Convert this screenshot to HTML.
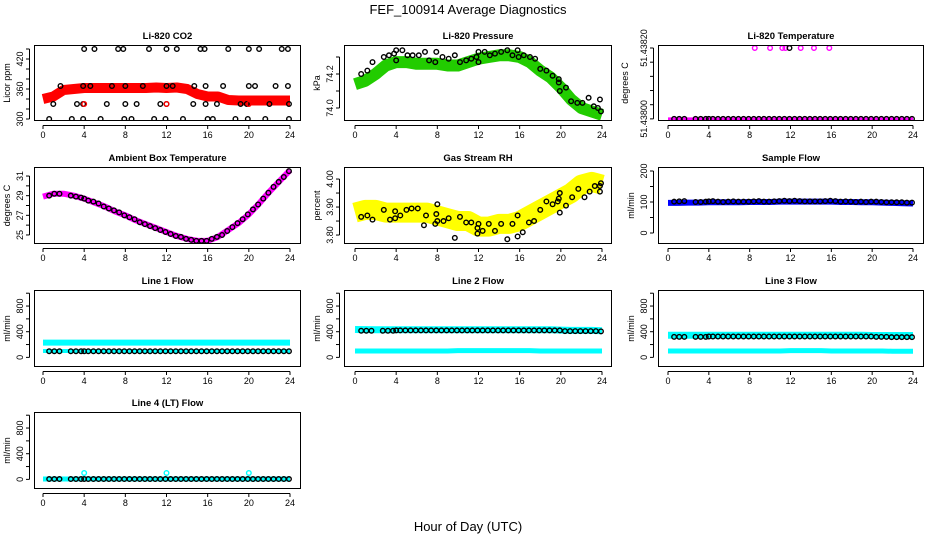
<!DOCTYPE html>
<html><head><meta charset="utf-8"><style>
body{margin:0;background:#fff;}
svg{display:block;font-family:"Liberation Sans",Arial,sans-serif;}
</style></head><body>
<svg id="chart" width="936" height="540" viewBox="0 0 936 540">
<rect width="936" height="540" fill="#fff"/>
<text x="468" y="14" text-anchor="middle" font-size="13">FEF_100914  Average Diagnostics</text>
<text x="468" y="531" text-anchor="middle" font-size="13">Hour of Day (UTC)</text>
</svg>
<script>
// ---- shared data ----
const hours = [0,1,2,3,4,5,6,7,8,9,10,11,12,13,14,15,16,17,18,19,20,21,22,23,24];
const sampleHours = [0.6,1.1,1.6,2.7,3.2,3.7,4.0,4.4,4.9,5.4,5.9,6.4,6.9,7.4,7.9,8.4,8.9,9.4,9.9,10.4,10.9,11.4,11.9,12.4,12.9,13.4,13.9,14.4,14.9,15.4,15.9,16.4,16.9,17.4,17.9,18.4,18.9,19.4,19.9,20.4,20.9,21.4,21.9,22.4,22.9,23.4,23.9];
const xTicks = [0,4,8,12,16,20,24];

// CO2
const co2Band = [340,345,358,360,362,362,362,362,362,362,362,363,362,363,360,350,345,345,338,337,337,337,337,337,337];
const co2PtsX = [4,5,7.3,7.8,10.3,12,13,15.3,15.7,18,20,21,23.2,23.8, 1.7,3.9,4.6,6.7,8,9.7,12,12.6,14.7,15.8,17.5,20,20.6,22.6,23.8, 1,3.3,3.9,6.2,8,9.1,11.4,12,14.6,15.8,16.9,19.2,19.8,22,23.9, 0.6,2.8,3.9,5.6,7.9,8.6,10.8,11.9,13.6,16,16.5,18.7,19.9,21.6,23.9];
const co2PtsY = [440,440,440,440,440,440,440,440,440,440,440,440,440,440, 366,366,366,366,366,366,366,366,366,366,366,366,366,366,366, 330,330,330,330,330,330,330,330,330,330,330,330,330,330,330, 300,300,300,300,300,300,300,300,300,300,300,300,300,300,300];

// Pressure
const presBand = [74.14,74.16,74.2,74.25,74.27,74.27,74.26,74.26,74.26,74.25,74.25,74.27,74.29,74.3,74.31,74.31,74.3,74.27,74.22,74.18,74.12,74.05,74.0,73.98,73.96];
const presPtsX = [0.6,1.2,1.7,2.8,3.3,3.8,4,4,4.6,5.1,5.6,6.2,6.8,7.2,7.8,7.9,8.5,9.1,9.7,10.2,10.8,11.3,11.8,12,12,12.6,13.1,13.6,14.2,14.8,15.3,15.8,15.9,16.4,17,17.5,18,18.6,19.2,19.8,19.8,19.9,20.5,21,21.6,22.1,22.7,23.2,23.6,23.8,23.9];
const presPtsY = [74.2,74.22,74.27,74.3,74.31,74.32,74.34,74.28,74.34,74.31,74.31,74.31,74.33,74.28,74.27,74.33,74.3,74.29,74.31,74.27,74.28,74.29,74.3,74.33,74.27,74.33,74.31,74.32,74.33,74.34,74.31,74.34,74.3,74.31,74.3,74.29,74.23,74.22,74.19,74.17,74.15,74.1,74.12,74.04,74.03,74.03,74.06,74.01,74.0,74.05,73.98];

// Li-820 temperature (degrees C)
const ltBand = [51.438,51.438,51.438,51.438,51.438,51.438,51.438,51.438,51.438,51.438,51.438,51.438,51.438,51.438,51.438,51.438,51.438,51.438,51.438,51.438,51.438,51.438,51.438,51.438,51.438];
const ltPtsY = [51.438,51.438,51.438,51.438,51.438,51.438,51.438,51.438,51.438,51.438,51.438,51.438,51.438,51.438,51.438,51.438,51.438,51.438,51.438,51.438,51.438,51.438,51.438,51.438,51.438,51.438,51.438,51.438,51.438,51.438,51.438,51.438,51.438,51.438,51.438,51.438,51.438,51.438,51.438,51.438,51.438,51.438,51.438,51.438,51.438,51.438,51.438];
const ltHighX = [8.5,10,11.2,11.5,13,14.3,15.8];
const ltHighY = [51.4382,51.4382,51.4382,51.4382,51.4382,51.4382,51.4382];
const ltBlackHighX = [11.9];
const ltBlackHighY = [51.4382];

// Ambient box temperature
const ambBand = [28.9,29.2,29.2,29.0,28.7,28.3,27.9,27.4,27.0,26.5,26.1,25.7,25.3,24.9,24.6,24.4,24.4,24.8,25.5,26.2,27.1,28.2,29.4,30.5,31.6];
const ambPtsY = [29.0,29.2,29.2,29.0,28.9,28.8,28.7,28.5,28.4,28.2,27.9,27.7,27.5,27.3,27.0,26.8,26.6,26.3,26.1,25.9,25.7,25.5,25.3,25.1,24.9,24.8,24.6,24.5,24.4,24.4,24.4,24.6,24.8,25.0,25.4,25.8,26.2,26.6,27.1,27.6,28.1,28.7,29.3,29.9,30.4,30.9,31.5];

// Gas stream RH
const rhBand = [3.88,3.89,3.89,3.88,3.88,3.88,3.88,3.88,3.87,3.86,3.85,3.85,3.83,3.83,3.84,3.84,3.85,3.87,3.89,3.91,3.93,3.95,3.98,3.99,3.98];
const rhPtsX = [0.6,1.2,1.7,2.8,3.4,3.9,3.9,4.4,5.0,5.5,6.1,6.7,6.9,7.8,7.9,8.0,8.0,8.6,9.1,9.7,10.2,10.8,11.3,11.9,11.9,12.0,12.4,13.0,13.6,14.2,14.8,15.3,15.8,15.8,16.3,16.9,17.4,18.0,18.6,19.2,19.7,19.8,19.9,19.9,20.5,21.1,21.7,22.3,22.8,23.3,23.8,23.8,23.9];
const rhPtsY = [3.865,3.87,3.855,3.89,3.855,3.885,3.86,3.87,3.89,3.895,3.895,3.835,3.87,3.84,3.875,3.85,3.91,3.85,3.86,3.79,3.865,3.845,3.845,3.805,3.825,3.84,3.815,3.84,3.815,3.84,3.785,3.84,3.87,3.795,3.81,3.845,3.85,3.89,3.92,3.91,3.92,3.93,3.95,3.88,3.905,3.935,3.965,3.935,3.955,3.975,3.975,3.955,3.985];

// Sample flow
const sfBand = [97,97,98,98,99,99,99,99,100,100,100,101,101,101,101,101,101,100,100,99,99,98,97,96,95];
const sfPtsY = [101,102,103,100,100,101,102,103,101,100,101,102,101,101,101,102,103,101,101,102,103,104,103,104,103,102,102,102,102,103,104,103,101,102,101,100,101,100,101,101,100,99,99,99,99,98,98];

// Line flows
const l1BandHi = [230,230,230,230,230,230,230,230,230,230,230,230,230,230,230,230,230,230,230,230,230,230,230,230,230];
const l1BandLo = [100,100,100,100,100,100,100,100,100,100,100,100,100,100,100,100,100,100,100,100,100,100,100,100,100];
const l1PtsY = [95,95,95,95,95,95,95,95,95,95,95,95,95,95,95,95,95,95,95,95,95,95,95,95,95,95,95,95,95,95,95,95,95,95,95,95,95,95,95,95,95,95,95,95,95,95,95];
const l2BandHi = [435,432,430,430,430,430,430,430,430,430,430,430,430,430,430,430,430,430,430,430,425,420,420,420,415];
const l2BandLo = [100,100,100,100,100,100,100,100,100,100,105,105,105,105,105,105,105,105,100,100,100,100,100,100,100];
const l2PtsY = [415,415,415,415,415,415,420,420,420,420,420,420,420,420,420,420,420,420,420,420,420,420,420,420,420,420,420,420,420,420,420,420,420,420,420,420,420,420,420,410,410,410,410,410,410,410,405];
const l3BandHi = [345,345,345,345,345,345,345,345,345,345,345,345,345,345,345,345,345,345,345,345,340,340,340,340,340];
const l3BandLo = [100,100,100,100,100,100,100,100,100,100,100,100,105,105,105,105,100,100,100,100,100,100,95,95,95];
const l3PtsY = [320,320,320,320,320,320,325,325,325,325,325,325,325,325,325,325,325,325,325,325,325,325,325,325,325,325,325,325,325,325,325,325,325,325,325,325,325,325,325,320,320,320,315,315,315,315,315];
const l4Band = [5,5,5,5,5,5,5,5,5,5,5,5,5,5,5,5,5,5,5,5,5,5,5,5,5];
const l4PtsY = [5,5,5,5,5,5,5,5,5,5,5,5,5,5,5,5,5,5,5,5,5,5,5,5,5,5,5,5,5,5,5,5,5,5,5,5,5,5,5,5,5,5,5,5,5,5,5];
const l4SpikeX = [4,12,20];
const l4SpikeY = [100,100,100];

// ---- drawing ----
const NS = "http://www.w3.org/2000/svg";
const svg = document.getElementById('chart');
function mk(tag, attrs, parent){
  const e = document.createElementNS(NS, tag);
  for (const k in attrs) e.setAttribute(k, attrs[k]);
  (parent||svg).appendChild(e);
  return e;
}
const colBox = [[34,301,43,290],[344,612,355,602],[658,924,668,913]];
const rowBox = [[45,121],[167,244],[290,367],[412,489]];

function panel(cfg){
  const [bl,br,x0,x24] = colBox[cfg.col];
  const [bt,bb] = rowBox[cfg.row];
  const g = mk('g', {});
  
  
  const sx = h => x0 + (h/24)*(x24-x0);
  const sy = v => bb - (v-cfg.ymin)/(cfg.ymax-cfg.ymin)*(bb-bt);
  const t = mk('text', {x:(bl+br)/2, y:bt-6, 'text-anchor':'middle', 'font-size':9.5, 'font-weight':'bold'}, g);
  t.textContent = cfg.title;
  
  
  const yt = mk('text', {x:0, y:0, 'text-anchor':'middle', 'font-size':9, transform:`translate(${bl-cfg.ytOff},${(bt+bb)/2}) rotate(-90)`}, g);
  yt.textContent = cfg.ylab;
  
  
  const clipId = 'c'+cfg.col+cfg.row;
  const cp = mk('clipPath', {id:clipId}, g);
  mk('rect', {x:bl, y:bt, width:br-bl, height:bb-bt}, cp);
  const pg = mk('g', {'clip-path':`url(#${clipId})`}, g);
  (cfg.bands||[]).forEach(b => {
    const pts = hours.map((h,i)=>sx(h)+','+sy(b.ys[i])).join(' ');
    const pl = mk('polyline', {points:pts, fill:'none', stroke:b.color, 'stroke-width':b.w, 'stroke-linejoin':'round', 'stroke-linecap':'butt'}, pg);
    
    
  });
  (cfg.points||[]).forEach(p => {
    p.xs.forEach((h,i)=>{
      const c = mk('circle', {cx:sx(h), cy:sy(p.ys[i]), r:2.3, fill:'none', stroke:p.color, 'stroke-width':1.4}, pg);
      
      
    });
  });
  mk('rect', {x:bl+0.5, y:bt+0.5, width:br-bl-1, height:bb-bt-1, fill:'none', stroke:'#000', 'stroke-width':1}, g);
  // x axis
  mk('line', {x1:sx(0), x2:sx(24), y1:bb+4.5, y2:bb+4.5, stroke:'#000'}, g);
  xTicks.forEach(v=>{
    mk('line', {x1:sx(v), x2:sx(v), y1:bb+4.5, y2:bb+8, stroke:'#000'}, g);
    const tl = mk('text', {x:sx(v), y:bb+17, 'text-anchor':'middle', 'font-size':9}, g);
    tl.textContent = v;
    
    
  });
  // y axis
  const t0 = sy(cfg.ticks[0]), t1 = sy(cfg.ticks[cfg.ticks.length-1]);
  mk('line', {x1:bl-4.5, x2:bl-4.5, y1:t0, y2:t1, stroke:'#000'}, g);
  cfg.ticks.forEach((v,i)=>{
    mk('line', {x1:bl-8, x2:bl-4.5, y1:sy(v), y2:sy(v), stroke:'#000'}, g);
    if (cfg.labels[i] !== '') {
      const tl = mk('text', {x:0, y:0, 'text-anchor':'middle', 'font-size':9, transform:`translate(${bl-11},${sy(v)}) rotate(-90)`}, g);
      tl.textContent = cfg.labels[i];
      
      
    }
  });
}

const flowTicks = [0,200,400,600,800,1000];
const flowLabels = ['0','','400','','800',''];

panel({name:'panel-co2', col:0,row:0,title:'Li-820 CO2',ylab:'Licor ppm',ytOff:24,ymin:296,ymax:448,
  ticks:[300,320,340,360,380,400,420,440],labels:['300','','','360','','','420',''],
  bands:[{ys:co2Band,color:'#ff0000',w:10}],
  points:[{xs:co2PtsX,ys:co2PtsY,color:'#000'},{xs:[4,12,20],ys:[330,330,330],color:'#ff0000'}]});
panel({name:'panel-pressure', col:1,row:0,title:'Li-820 Pressure',ylab:'kPa',ytOff:24,ymin:73.9235,ymax:74.3706,
  ticks:[74.0,74.1,74.2,74.3],labels:['74.0','','74.2',''],
  bands:[{ys:presBand,color:'#22cc00',w:12}],
  points:[{xs:presPtsX,ys:presPtsY,color:'#000'}]});
panel({name:'panel-li820-temp', col:2,row:0,title:'Li-820 Temperature',ylab:'degrees C',ytOff:30,ymin:51.437994,ymax:51.4382085,
  ticks:[51.438,51.43804,51.43808,51.43812,51.43816,51.4382],labels:['51.43800','','','','','51.43820'],
  bands:[{ys:ltBand,color:'#ff00ff',w:3}],
  points:[{xs:sampleHours,ys:ltPtsY,color:'#000'},{xs:ltHighX,ys:ltHighY,color:'#ff00ff'},{xs:ltBlackHighX,ys:ltBlackHighY,color:'#000'}]});
panel({name:'panel-ambient-temp', col:0,row:1,title:'Ambient Box Temperature',ylab:'degrees C',ytOff:24,ymin:24.08,ymax:31.92,
  ticks:[25,26,27,28,29,30,31],labels:['25','','27','','29','','31'],
  bands:[{ys:ambBand,color:'#ff00ff',w:6}],
  points:[{xs:sampleHours,ys:ambPtsY,color:'#000'}]});
panel({name:'panel-gas-rh', col:1,row:1,title:'Gas Stream RH',ylab:'percent',ytOff:24,ymin:3.768,ymax:4.043,
  ticks:[3.80,3.85,3.90,3.95,4.00],labels:['3.80','','3.90','','4.00'],
  bands:[{ys:rhBand,color:'#ffff00',w:20}],
  points:[{xs:rhPtsX,ys:rhPtsY,color:'#000'}]});
panel({name:'panel-sample-flow', col:2,row:1,title:'Sample Flow',ylab:'ml/min',ytOff:24,ymin:-35.5,ymax:212.9,
  ticks:[0,50,100,150,200],labels:['0','','100','','200'],
  bands:[{ys:sfBand,color:'#0000ff',w:6}],
  points:[{xs:sampleHours,ys:sfPtsY,color:'#000'}]});
panel({name:'panel-line1-flow', col:0,row:2,title:'Line 1 Flow',ylab:'ml/min',ytOff:24,ymin:-150,ymax:1050,
  ticks:flowTicks,labels:flowLabels,
  bands:[{ys:l1BandHi,color:'#00ffff',w:6},{ys:l1BandLo,color:'#00ffff',w:4}],
  points:[{xs:sampleHours,ys:l1PtsY,color:'#000'}]});
panel({name:'panel-line2-flow', col:1,row:2,title:'Line 2 Flow',ylab:'ml/min',ytOff:24,ymin:-150,ymax:1050,
  ticks:flowTicks,labels:flowLabels,
  bands:[{ys:l2BandHi,color:'#00ffff',w:7},{ys:l2BandLo,color:'#00ffff',w:5}],
  points:[{xs:sampleHours,ys:l2PtsY,color:'#000'}]});
panel({name:'panel-line3-flow', col:2,row:2,title:'Line 3 Flow',ylab:'ml/min',ytOff:24,ymin:-150,ymax:1050,
  ticks:flowTicks,labels:flowLabels,
  bands:[{ys:l3BandHi,color:'#00ffff',w:7},{ys:l3BandLo,color:'#00ffff',w:5}],
  points:[{xs:sampleHours,ys:l3PtsY,color:'#000'}]});
panel({name:'panel-line4-flow', col:0,row:3,title:'Line 4 (LT) Flow',ylab:'ml/min',ytOff:24,ymin:-150,ymax:1050,
  ticks:flowTicks,labels:flowLabels,
  bands:[{ys:l4Band,color:'#00ffff',w:5}],
  points:[{xs:sampleHours,ys:l4PtsY,color:'#000'},{xs:l4SpikeX,ys:l4SpikeY,color:'#00ffff'}]});
</script>
</body></html>
